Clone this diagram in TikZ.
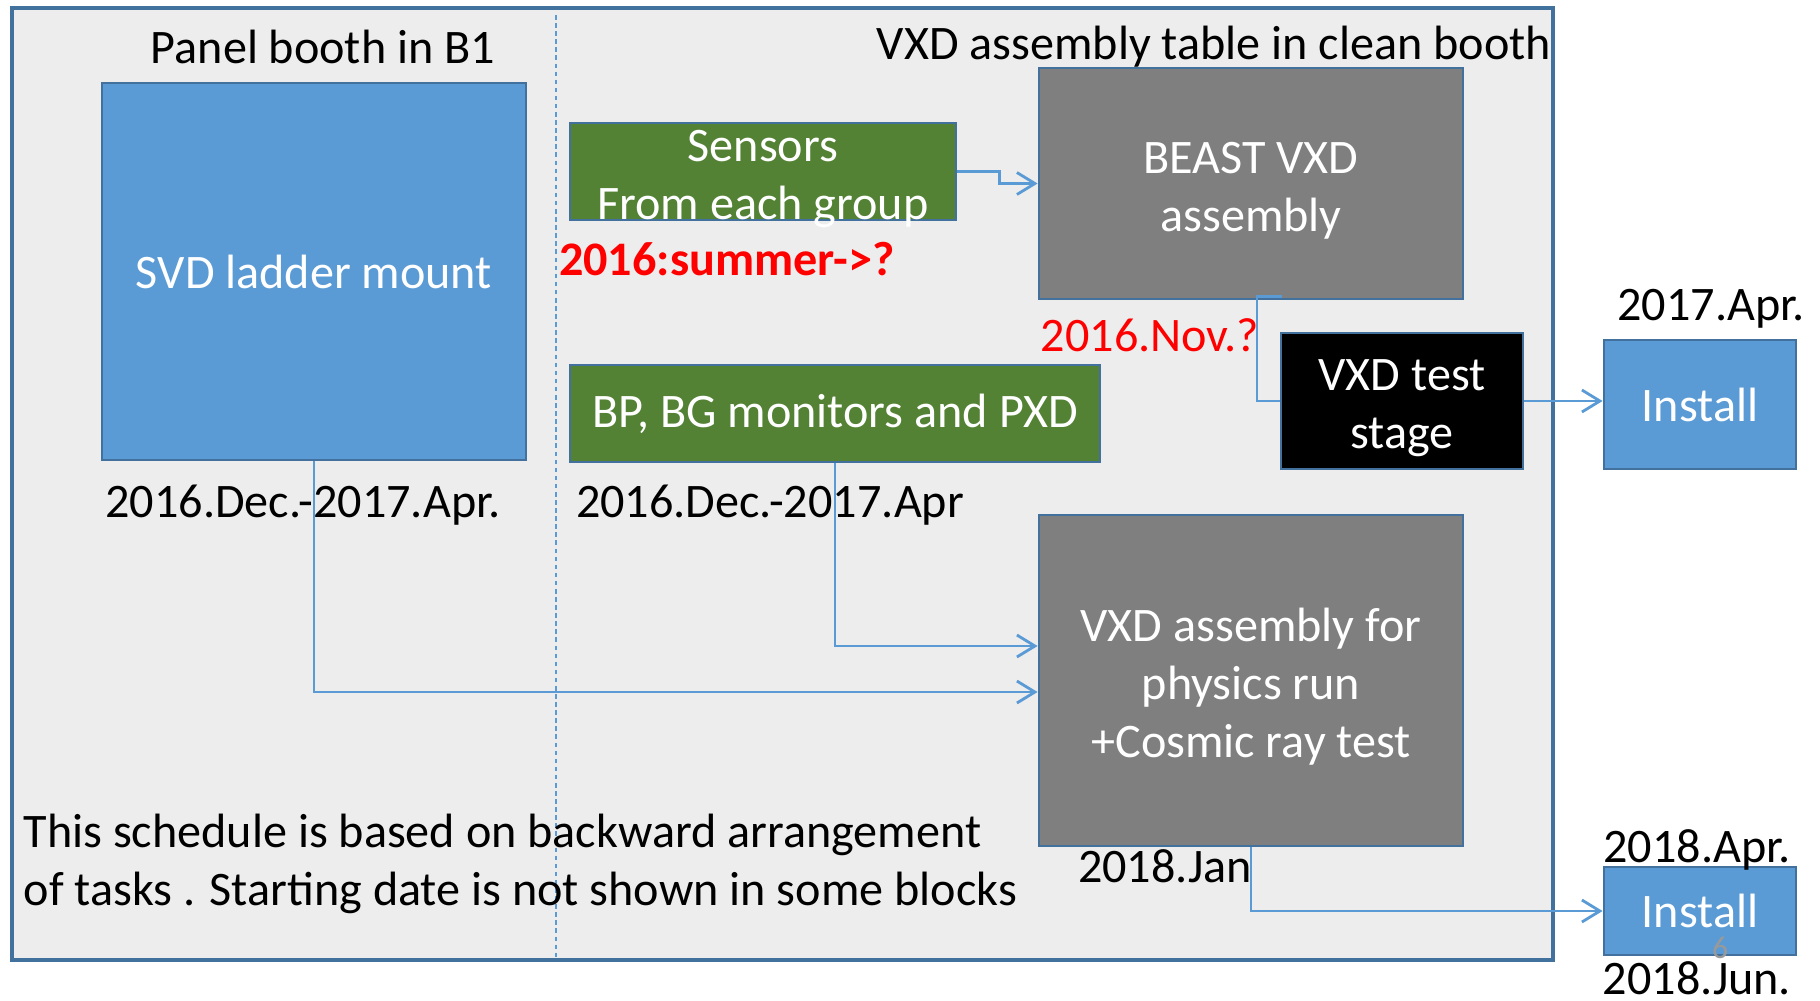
\documentclass[tikz,border=0pt]{standalone}
\usepackage{fontspec}
\setmainfont{Carlito}
\usepackage{xcolor}
\usetikzlibrary{positioning,calc,arrows.meta}
\definecolor{boothgray}{HTML}{EDEDED}
\definecolor{edgeblue}{HTML}{41719C}
\definecolor{taskblue}{HTML}{5B9BD5}
\definecolor{taskgreen}{HTML}{548235}
\definecolor{taskgray}{HTML}{7F7F7F}
\newcommand{\tallline}{\rule{0pt}{13pt}}

\begin{document}
\begin{tikzpicture}[x=0.1mm,y=-0.1mm,
        font=\fontsize{13.7}{16.5}\selectfont,
        task/.style={draw=edgeblue,line width=0.8pt,text=white,align=center,inner sep=0pt},
        tight/.style={inner ysep=-1mm},
        lbl/.style={inner sep=0pt},
        link/.style={draw=taskblue,line width=0.8pt},
        arr/.style={link,-{Straight Barb[length=1.8mm,width=2.2mm,line width=0.8pt]}}]
        \useasboundingbox (0,0) rectangle (1820,1000);

        % Booths
        \draw[edgeblue,fill=boothgray,line width=0.9pt] (12,8) rectangle (1553,960);
        \draw[taskblue,dash pattern=on 1.3pt off 1pt,line width=0.4pt] (556,15) -- (556,960);
        \node[lbl] (panel) at (323,47) {Panel booth in B1};
        \node[lbl] (clean) at (1214,47) {VXD assembly table in clean booth};

        % Tasks
        \node[task,fill=taskblue,minimum width=42.4mm,minimum height=37.7mm] (svd) at (314,271.5) {SVD ladder mount};
        \node[task,tight,fill=taskgreen,minimum width=38.6mm,minimum height=9.7mm] (sensors) at (763,171.5) {\tallline Sensors\\From each group};
        \node[task,fill=taskgreen,minimum width=53mm,minimum height=9.7mm] (bp) at (835,413.5) {BP, BG monitors and PXD};
        \node[task,fill=taskgray,minimum width=42.4mm,minimum height=23.1mm] (beast) at (1251,183.5) {\tallline BEAST VXD\\assembly};
        \node[task,fill=black,minimum width=24.2mm,minimum height=13.6mm] (test) at (1402,401) {\tallline VXD test\\stage};
        \node[task,fill=taskgray,minimum width=42.4mm,minimum height=33.1mm] (phys) at (1251,680.5) {\tallline VXD assembly for\\physics run\\+Cosmic ray test};
        \node[task,fill=taskblue,minimum width=19.2mm,minimum height=12.9mm] (inst1) at (1700,404.5) {Install};
        \node[task,fill=taskblue,minimum width=19.2mm,minimum height=8.8mm] (inst2) at (1700,911) {Install};

        % Dates
        \node[lbl,text=red,font=\fontsize{13.7}{16.5}\selectfont\bfseries] (summer) at (727,259) {2016:summer->?};
        \node[lbl,text=red] (nov) at (1150,335) {2016.Nov.?};
        \node[lbl] (svddate) at (303,505) {2016.Dec.-2017.Apr.};
        \node[lbl] (bpdate) at (770,505) {2016.Dec.-2017.Apr};
        \node[lbl] (jan) at (1165,866) {2018.Jan};
        \node[lbl] (apr17) at (1711,309) {2017.Apr.};
        \node[lbl] (apr18) at (1697,850) {2018.Apr.};
        \node[lbl,anchor=base] (jun18) at (1697,994) {2018.Jun.};
        \node[lbl,text=gray!80,font=\fontsize{9}{9}\selectfont] (pnum) at (1720,948) {6};

        \node[lbl,align=left,anchor=west] (note) at (23,864) {This schedule is based on backward arrangement\\of tasks . Starting date is not shown in some blocks};

        % Connectors
        \draw[arr] (sensors.east) -- ++(4.2mm,0) |- (beast.west);
        \draw[link] ([xshift=3.1mm,yshift=0.4mm]beast.south) -- ++(-2.5mm,0) |- (test.west);
        \draw[arr] (test.east) -- (test.east -| inst1.west);
        \draw[arr] (bp.south) |- ([yshift=3.45mm]phys.west);
        \draw[arr] (svd.south) |- ([yshift=-1.15mm]phys.west);
        \draw[arr] (phys.south) |- (inst2.west);
    \end{tikzpicture}
\end{document}
